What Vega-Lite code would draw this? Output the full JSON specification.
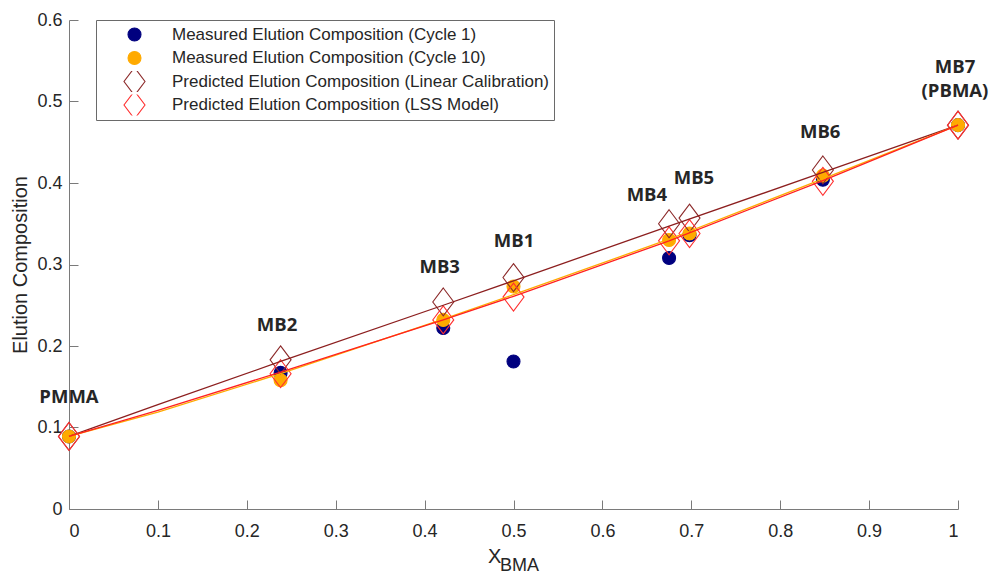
{
  "$schema": "https://vega.github.io/schema/vega-lite/v6.json",
  "autosize": {"type": "none"},
  "width": 889,
  "height": 489,
  "padding": {"left": 69, "top": 20, "right": 33, "bottom": 64},
  "background": "white",
  "config": {
    "view": {"stroke": null},
    "font": "Liberation Sans",
    "axis": {
      "grid": false,
      "domainColor": "#7a7a7a",
      "tickColor": "#7a7a7a",
      "tickSize": -9,
      "labelFont": "Liberation Sans",
      "labelFontSize": 18,
      "labelColor": "#262626",
      "titleFont": "Liberation Sans",
      "titleFontWeight": "normal",
      "titleColor": "#262626"
    }
  },
  "datasets": {
    "points": [
      {"series": "Measured Elution Composition (Cycle 1)", "x": 0, "y": 0.089},
      {"series": "Measured Elution Composition (Cycle 1)", "x": 0.238, "y": 0.167},
      {"series": "Measured Elution Composition (Cycle 1)", "x": 0.421, "y": 0.222},
      {"series": "Measured Elution Composition (Cycle 1)", "x": 0.5, "y": 0.181},
      {"series": "Measured Elution Composition (Cycle 1)", "x": 0.675, "y": 0.308},
      {"series": "Measured Elution Composition (Cycle 1)", "x": 0.698, "y": 0.336},
      {"series": "Measured Elution Composition (Cycle 1)", "x": 0.848, "y": 0.404},
      {"series": "Measured Elution Composition (Cycle 1)", "x": 1, "y": 0.471},
      {"series": "Measured Elution Composition (Cycle 10)", "x": 0, "y": 0.089},
      {"series": "Measured Elution Composition (Cycle 10)", "x": 0.238, "y": 0.158},
      {"series": "Measured Elution Composition (Cycle 10)", "x": 0.421, "y": 0.232},
      {"series": "Measured Elution Composition (Cycle 10)", "x": 0.5, "y": 0.273},
      {"series": "Measured Elution Composition (Cycle 10)", "x": 0.675, "y": 0.330},
      {"series": "Measured Elution Composition (Cycle 10)", "x": 0.698, "y": 0.338},
      {"series": "Measured Elution Composition (Cycle 10)", "x": 0.848, "y": 0.409},
      {"series": "Measured Elution Composition (Cycle 10)", "x": 1, "y": 0.471},
      {"series": "Predicted Elution Composition (Linear Calibration)", "x": 0, "y": 0.089},
      {"series": "Predicted Elution Composition (Linear Calibration)", "x": 0.238, "y": 0.183},
      {"series": "Predicted Elution Composition (Linear Calibration)", "x": 0.421, "y": 0.254},
      {"series": "Predicted Elution Composition (Linear Calibration)", "x": 0.5, "y": 0.284},
      {"series": "Predicted Elution Composition (Linear Calibration)", "x": 0.675, "y": 0.350},
      {"series": "Predicted Elution Composition (Linear Calibration)", "x": 0.698, "y": 0.357},
      {"series": "Predicted Elution Composition (Linear Calibration)", "x": 0.848, "y": 0.416},
      {"series": "Predicted Elution Composition (Linear Calibration)", "x": 1, "y": 0.471},
      {"series": "Predicted Elution Composition (LSS Model)", "x": 0, "y": 0.089},
      {"series": "Predicted Elution Composition (LSS Model)", "x": 0.238, "y": 0.166},
      {"series": "Predicted Elution Composition (LSS Model)", "x": 0.421, "y": 0.232},
      {"series": "Predicted Elution Composition (LSS Model)", "x": 0.5, "y": 0.260},
      {"series": "Predicted Elution Composition (LSS Model)", "x": 0.675, "y": 0.329},
      {"series": "Predicted Elution Composition (LSS Model)", "x": 0.698, "y": 0.338},
      {"series": "Predicted Elution Composition (LSS Model)", "x": 0.848, "y": 0.402},
      {"series": "Predicted Elution Composition (LSS Model)", "x": 1, "y": 0.471}
    ],
    "lines": [
      {"curve": "Linear", "x": 0, "y": 0.089},
      {"curve": "Linear", "x": 0.1, "y": 0.128},
      {"curve": "Linear", "x": 0.238, "y": 0.181},
      {"curve": "Linear", "x": 0.421, "y": 0.250},
      {"curve": "Linear", "x": 0.5, "y": 0.280},
      {"curve": "Linear", "x": 0.675, "y": 0.347},
      {"curve": "Linear", "x": 0.848, "y": 0.413},
      {"curve": "Linear", "x": 1, "y": 0.471},
      {"curve": "Cycle10", "x": 0, "y": 0.089},
      {"curve": "Cycle10", "x": 0.1, "y": 0.119},
      {"curve": "Cycle10", "x": 0.238, "y": 0.166},
      {"curve": "Cycle10", "x": 0.421, "y": 0.233},
      {"curve": "Cycle10", "x": 0.5, "y": 0.263},
      {"curve": "Cycle10", "x": 0.675, "y": 0.331},
      {"curve": "Cycle10", "x": 0.848, "y": 0.405},
      {"curve": "Cycle10", "x": 1, "y": 0.471},
      {"curve": "LSS", "x": 0, "y": 0.089},
      {"curve": "LSS", "x": 0.1, "y": 0.121},
      {"curve": "LSS", "x": 0.238, "y": 0.168},
      {"curve": "LSS", "x": 0.421, "y": 0.232},
      {"curve": "LSS", "x": 0.5, "y": 0.261},
      {"curve": "LSS", "x": 0.675, "y": 0.329},
      {"curve": "LSS", "x": 0.848, "y": 0.403},
      {"curve": "LSS", "x": 1, "y": 0.471}
    ],
    "labels": [
      {"text": "PMMA", "x": 0, "y": 0.1376},
      {"text": "MB2", "x": 0.234, "y": 0.2254},
      {"text": "MB3", "x": 0.417, "y": 0.297},
      {"text": "MB1", "x": 0.5006, "y": 0.329},
      {"text": "MB4", "x": 0.650, "y": 0.385},
      {"text": "MB5", "x": 0.703, "y": 0.406},
      {"text": "MB6", "x": 0.845, "y": 0.463},
      {"text": "MB7", "x": 0.9966, "y": 0.5418},
      {"text": "(PBMA)", "x": 0.9966, "y": 0.5126}
    ],
    "xmain": [
      {"text": "X", "x": 0.4713, "y": -0.0663}
    ],
    "xsub": [
      {"text": "BMA", "x": 0.4848, "y": -0.0755}
    ]
  },
  "layer": [
    {
      "data": {"name": "points"},
      "mark": {"type": "point", "opacity": 1, "strokeWidth": 1.1, "clip": false},
      "encoding": {
        "x": {
          "field": "x", "type": "quantitative",
          "scale": {"domain": [0, 1], "nice": false, "zero": false},
          "axis": {"values": [0, 0.1, 0.2, 0.3, 0.4, 0.5, 0.6, 0.7, 0.8, 0.9, 1], "format": "~g", "title": null, "labelPadding": 22}
        },
        "y": {
          "field": "y", "type": "quantitative",
          "scale": {"domain": [0, 0.6], "nice": false},
          "axis": {"values": [0, 0.1, 0.2, 0.3, 0.4, 0.5, 0.6], "format": "~g", "title": "Elution Composition", "titleFontSize": 20, "titleX": -49, "titleY": 244.5, "titleBaseline": "middle", "titleAlign": "center", "labelPadding": 16}
        },
        "shape": {
          "field": "series", "type": "nominal",
          "scale": {
            "domain": ["Measured Elution Composition (Cycle 1)", "Measured Elution Composition (Cycle 10)", "Predicted Elution Composition (Linear Calibration)", "Predicted Elution Composition (LSS Model)"],
            "range": ["circle", "circle", "M0,-1.33L1,0L0,1.33L-1,0Z", "M0,-1.33L1,0L0,1.33L-1,0Z"]
          },
          "legend": {
            "title": null,
            "orient": "none",
            "legendX": 27,
            "legendY": 0,
            "direction": "vertical",
            "fillColor": "white",
            "strokeColor": "#6a6a6a",
            "padding": 4,
            "rowPadding": 2.5,
            "clipHeight": 21,
            "symbolOffset": 23,
            "labelOffset": 26,
            "labelFont": "Liberation Sans",
            "labelFontSize": 17,
            "labelColor": "#262626",
            "labelLimit": 500,
            "symbolStrokeWidth": 1.1
          }
        },
        "fill": {
          "field": "series", "type": "nominal",
          "scale": {
            "domain": ["Measured Elution Composition (Cycle 1)", "Measured Elution Composition (Cycle 10)", "Predicted Elution Composition (Linear Calibration)", "Predicted Elution Composition (LSS Model)"],
            "range": ["#00007f", "#ffaa00", "transparent", "transparent"]
          },
          "legend": {"title": null}
        },
        "stroke": {
          "field": "series", "type": "nominal",
          "scale": {
            "domain": ["Measured Elution Composition (Cycle 1)", "Measured Elution Composition (Cycle 10)", "Predicted Elution Composition (Linear Calibration)", "Predicted Elution Composition (LSS Model)"],
            "range": ["#00007f", "#ffaa00", "#8c2a2a", "#ff3030"]
          },
          "legend": {"title": null}
        },
        "size": {
          "field": "series", "type": "nominal",
          "scale": {
            "type": "ordinal",
            "domain": ["Measured Elution Composition (Cycle 1)", "Measured Elution Composition (Cycle 10)", "Predicted Elution Composition (Linear Calibration)", "Predicted Elution Composition (LSS Model)"],
            "range": [169, 169, 441, 441]
          },
          "legend": {"title": null}
        }
      }
    },
    {
      "data": {"name": "lines"},
      "mark": {"type": "line", "strokeWidth": 1.3, "clip": false},
      "encoding": {
        "x": {"field": "x", "type": "quantitative"},
        "y": {"field": "y", "type": "quantitative"},
        "color": {
          "field": "curve", "type": "nominal",
          "scale": {"domain": ["Linear", "Cycle10", "LSS"], "range": ["#8c1f1f", "#ffaa00", "#ff2020"]},
          "legend": null
        },
        "order": {"field": "x", "type": "quantitative"}
      }
    },
    {
      "data": {"name": "labels"},
      "mark": {"type": "text", "font": "Open Sans", "fontWeight": "bold", "fontSize": 18.5, "color": "#262626", "align": "center", "baseline": "middle", "clip": false},
      "encoding": {
        "x": {"field": "x", "type": "quantitative"},
        "y": {"field": "y", "type": "quantitative"},
        "text": {"field": "text"}
      }
    },
    {
      "data": {"name": "xmain"},
      "mark": {"type": "text", "font": "Liberation Sans", "fontSize": 20, "color": "#262626", "align": "left", "baseline": "alphabetic", "clip": false},
      "encoding": {
        "x": {"field": "x", "type": "quantitative"},
        "y": {"field": "y", "type": "quantitative"},
        "text": {"field": "text"}
      }
    },
    {
      "data": {"name": "xsub"},
      "mark": {"type": "text", "font": "Liberation Sans", "fontSize": 18, "color": "#262626", "align": "left", "baseline": "alphabetic", "clip": false},
      "encoding": {
        "x": {"field": "x", "type": "quantitative"},
        "y": {"field": "y", "type": "quantitative"},
        "text": {"field": "text"}
      }
    }
  ]
}
